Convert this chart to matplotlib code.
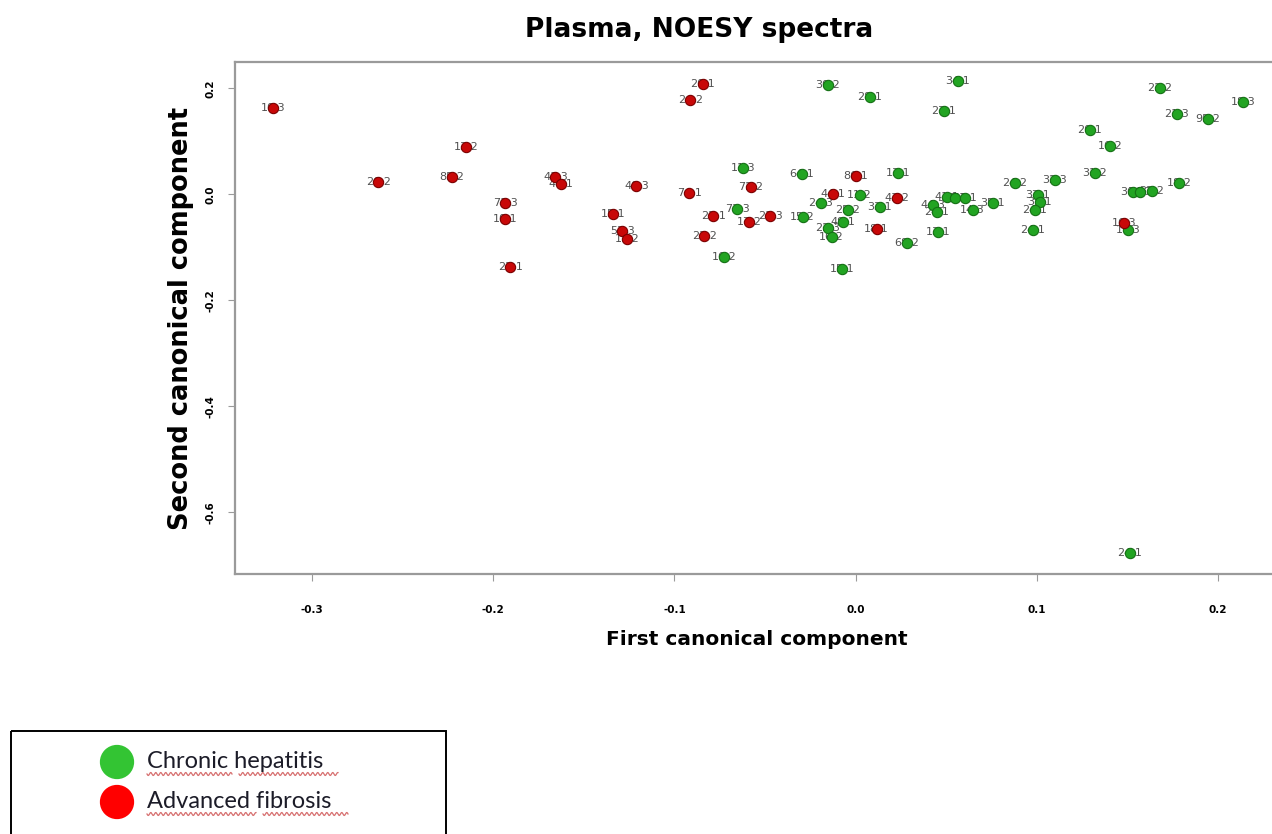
import numpy as np
import matplotlib
matplotlib.use("Agg")
import matplotlib.pyplot as plt
from matplotlib.patches import Rectangle

# Datos (primer y segundo componente canonico)
x_fibrosis = [-0.3215, -0.2149, -0.2635, -0.2227, -0.1657, -0.1624, -0.1934, -0.1934,
              -0.1337, -0.1287, -0.1260, -0.1906, -0.0845, -0.0912, -0.1210, -0.0917,
              -0.0580, 0.0000, -0.0127, 0.0227, -0.0785, -0.0470, -0.0586, -0.0834,
              0.0116, 0.1480]
y_fibrosis = [0.163, 0.0896, 0.0236, 0.033, 0.033, 0.0198, -0.016, -0.046,
              -0.0368, -0.0689, -0.084, -0.1368, 0.2085, 0.1783, 0.016, 0.0028,
              0.0142, 0.0349, 0.0009, -0.0066, -0.0406, -0.0406, -0.0519, -0.0783,
              -0.0651, -0.0538]
etiquetas_fibrosis = ["103", "132", "262", "852", "413", "471", "713", "101",
                      "151", "523", "112", "221", "201", "242", "403", "741",
                      "722", "861", "441", "432", "221", "213", "172", "232",
                      "181", "163"]

x_hepatitis = [-0.0155, 0.0077, 0.0564, 0.0486, -0.0619, -0.0298, 0.0232, 0.0022,
               -0.0193, -0.0044, 0.0133, -0.0293, -0.0072, -0.0155, -0.0133, -0.0652,
               -0.0724, -0.0077, 0.0282, 0.0453, 0.0425, 0.0448, 0.0503, 0.0547,
               0.0602, 0.0646, 0.0757, 0.0878, 0.1099, 0.1006, 0.1017, 0.0989,
               0.0978, 0.1293, 0.1403, 0.1320, 0.1680, 0.2138, 0.1773, 0.1945,
               0.1785, 0.1530, 0.1569, 0.1635, 0.1503, 0.1514]
y_hepatitis = [0.2066, 0.184, 0.2142, 0.1575, 0.05, 0.0387, 0.0406, -0.0009,
               -0.016, -0.0292, -0.0236, -0.0425, -0.0519, -0.0632, -0.0802, -0.0274,
               -0.1179, -0.1406, -0.0915, -0.0708, -0.0198, -0.033, -0.0047, -0.0066,
               -0.0066, -0.0292, -0.016, 0.0217, 0.0274, -0.0009, -0.0142, -0.0292,
               -0.067, 0.1217, 0.0915, 0.0406, 0.2009, 0.1745, 0.1519, 0.1425,
               0.0217, 0.0047, 0.0047, 0.0066, -0.067, -0.6764]
etiquetas_hepatitis = ["302", "281", "341", "271", "113", "641", "131", "112",
                       "243", "252", "331", "152", "491", "223", "162", "733",
                       "162", "151", "682", "131", "443", "241", "411", "421",
                       "431", "143", "351", "242", "323", "371", "311", "241",
                       "241", "201", "162", "312", "222", "183", "213", "952",
                       "182", "363", "343", "322", "173", "241"]

ticks_x = [-0.3, -0.2, -0.1, 0.0, 0.1, 0.2]
ticks_y = [0.2, 0.0, -0.2, -0.4, -0.6]

ancho, alto = 1272, 834
fig = plt.figure(figsize=(ancho / 100, alto / 100), dpi=100)
ax = fig.add_axes([235 / ancho, 1 - 574 / alto, (1278 - 235) / ancho, (574 - 62) / alto])
ax.set_xlim(-0.3425, 0.2331)
ax.set_ylim(-0.7166, 0.2500)

gris = "#9a9a9a"
for lado in ["left", "bottom", "top", "right"]:
    ax.spines[lado].set_color(gris)
    ax.spines[lado].set_linewidth(1.6)

# Etiquetas de cada muestra, con el punto encima (tapa los caracteres del medio)
for xs, ys, etiq in [(x_fibrosis, y_fibrosis, etiquetas_fibrosis),
                     (x_hepatitis, y_hepatitis, etiquetas_hepatitis)]:
    for xi, yi, t in zip(xs, ys, etiq):
        ax.text(xi, yi, t[0] + t[1] + "." + t[2], fontsize=8, color="#505050",
                ha="center", va="center", zorder=2)

ax.scatter(x_hepatitis, y_hepatitis, s=55, color="#22a422", edgecolors="#157015",
           linewidths=0.8, zorder=3)
ax.scatter(x_fibrosis, y_fibrosis, s=55, color="#c80808", edgecolors="#7a0000",
           linewidths=0.8, zorder=4)

ax.set_xticks(ticks_x)
ax.set_xticklabels(["%.1f" % v for v in ticks_x], fontsize=7.5, fontweight="bold")
ax.set_yticks(ticks_y)
ax.set_yticklabels(["%.1f" % v for v in ticks_y], fontsize=7.5, fontweight="bold",
                   rotation=90, va="center")
ax.tick_params(axis="x", length=5, color=gris, pad=17)
ax.tick_params(axis="y", length=5, color=gris, pad=9)

ax.set_xlabel("First canonical component", fontsize=14.5, fontweight="bold", labelpad=11)
ax.set_ylabel("Second canonical component", fontsize=18.5, fontweight="bold", labelpad=8)
fig.text(699 / ancho, 1 - 30 / alto, "Plasma, NOESY spectra", fontsize=19,
         fontweight="bold", ha="center", va="center")

# Leyenda en una caja aparte, en coordenadas de pixel
ax_ley = fig.add_axes([0, 0, 1, 1], facecolor="none")
ax_ley.set_xlim(0, ancho)
ax_ley.set_ylim(alto, 0)
ax_ley.axis("off")
ax_ley.add_patch(Rectangle((11, 731), 435, 110, fill=False, edgecolor="black",
                           linewidth=1.4))
ax_ley.scatter([117, 117], [762, 802], s=560, color=["#33c433", "#ff0000"], zorder=3)
ax_ley.text(147, 761, "Chronic hepatitis", fontsize=17, family="Lato",
            color="#1c1c28", va="center")
ax_ley.text(147, 801, "Advanced fibrosis", fontsize=17, family="Lato",
            color="#1c1c28", va="center")

# Subrayado ondulado rojo del corrector
for x0, x1, yb in [(147, 232, 774), (239, 338, 774), (147, 256, 814), (263, 348, 814)]:
    xx = np.linspace(x0, x1, 200)
    ax_ley.plot(xx, yb + 1.5 * np.sin((xx - x0) * 2 * np.pi / 5), color="#d77070",
                linewidth=0.9)

fig.savefig("out.png", dpi=100)
